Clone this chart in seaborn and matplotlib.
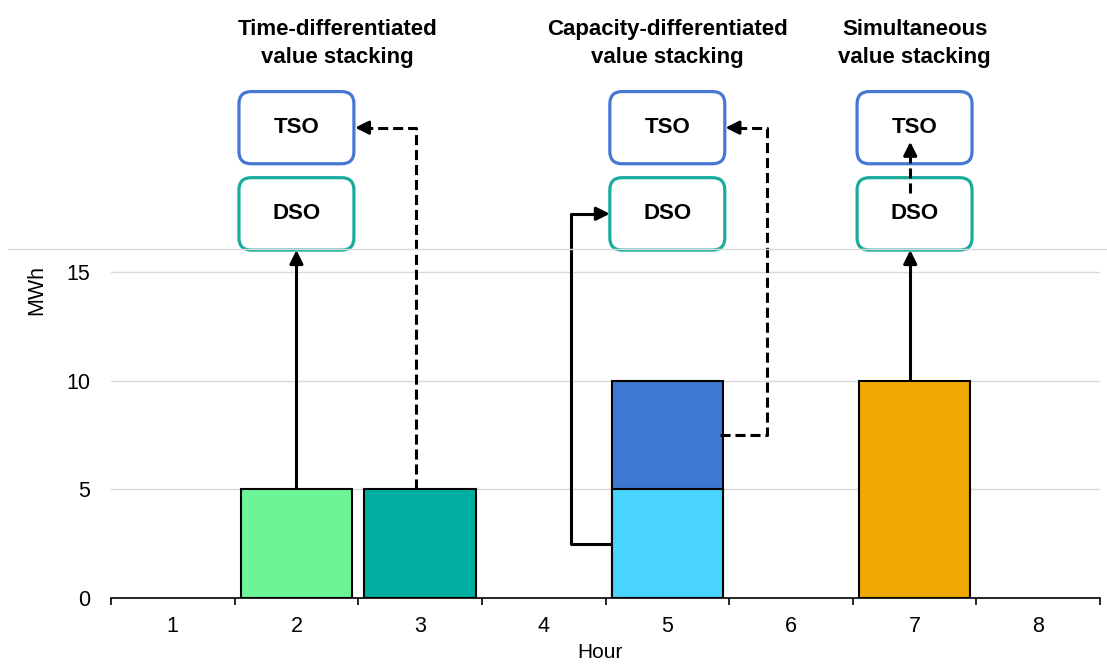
import numpy as np
import pandas as pd
import seaborn as sns
import matplotlib.pyplot as plt
from matplotlib.patches import FancyBboxPatch
from matplotlib.lines import Line2D
from matplotlib.ticker import FixedLocator

# data
hours = ['1', '2', '3', '4', '5', '6', '7', '8']
bar_hours = ['2', '3', '5', '7']
bar_totals = [5, 5, 10, 10]
bar_colors = ['#6bf597', '#00ae9f', '#3d78d1', '#f0a900']
lower_hours = ['5']
lower_values = [5]
lower_color = '#48d4ff'

titles = ['Time-differentiated\nvalue stacking',
          'Capacity-differentiated\nvalue stacking',
          'Simultaneous\nvalue stacking']
title_x = [1.33, 4.0, 6.0]
box_x = [1.0, 4.0, 6.0]
tso_color = '#4677d3'
dso_color = '#19ab9c'

sns.set_style('white')
plt.rcParams['font.family'] = ['Liberation Sans', 'DejaVu Sans']
plt.rcParams['text.color'] = 'black'
plt.rcParams['axes.labelcolor'] = 'black'
plt.rcParams['xtick.color'] = 'black'
plt.rcParams['ytick.color'] = 'black'

fig = plt.figure(figsize=(11.07, 6.64), dpi=100)
ax = fig.add_axes([111 / 1107, 1 - 598 / 664, 989 / 1107, 349 / 664])

df = pd.DataFrame({'hour': bar_hours, 'mwh': bar_totals})
sns.barplot(data=df, x='hour', y='mwh', order=hours, hue='hour', hue_order=bar_hours,
            palette=bar_colors, saturation=1, width=0.9, edgecolor='black',
            linewidth=1.5, legend=False, ax=ax, zorder=2)
df_low = pd.DataFrame({'hour': lower_hours, 'mwh': lower_values})
sns.barplot(data=df_low, x='hour', y='mwh', order=hours, color=lower_color, saturation=1,
            width=0.9, edgecolor='black', linewidth=1.5, ax=ax, zorder=2)

ax.set_xlim(-0.5, 7.5)
ax.set_ylim(0, 16.05)
ax.set_yticks([0, 5, 10, 15])
ax.yaxis.grid(True, color='#d9d9d9', lw=1)
ax.set_axisbelow(True)
for s in ['top', 'right', 'left']:
    ax.spines[s].set_visible(False)
ax.spines['bottom'].set_color('black')
ax.spines['bottom'].set_linewidth(1.2)
ax.xaxis.set_minor_locator(FixedLocator(np.arange(-0.5, 8, 1)))
ax.tick_params(axis='x', which='major', length=0, pad=13, labelsize=15.5)
ax.tick_params(axis='x', which='minor', length=5, width=1.2, color='black', direction='out', bottom=True)
ax.tick_params(axis='y', length=0, pad=15, labelsize=15.5)
ax.set_xlabel('Hour', fontsize=15, va='top')
ax.xaxis.set_label_coords(0.494, -0.128)
ax.set_ylabel('MWh', fontsize=15.5)
ax.yaxis.set_label_coords(-0.0647, 0.883)

# top separator line
fig.add_artist(Line2D([0.007, 1.0], [1 - 249 / 664] * 2, transform=fig.transFigure,
                      color='#d9d9d9', lw=1))

# boxes
fig.canvas.draw()
p0 = ax.transData.transform((0, 0))
p1 = ax.transData.transform((1, 1))
aspect = (p1[0] - p0[0]) / (p1[1] - p0[1])


def draw_box(xc, y0, y1, label, color):
    w = 0.93
    patch = FancyBboxPatch((xc - w / 2, y0), w, y1 - y0,
                           boxstyle='round,pad=0,rounding_size=0.1',
                           mutation_aspect=aspect, fc='white', ec=color, lw=2.3,
                           clip_on=False, zorder=3)
    ax.add_patch(patch)
    ax.text(xc, (y0 + y1) / 2, label, ha='center', va='center', fontsize=16,
            fontweight='bold', clip_on=False, zorder=4)


for xc in box_x:
    draw_box(xc, 19.97, 23.29, 'TSO', tso_color)
    draw_box(xc, 16.0, 19.33, 'DSO', dso_color)

for t, xt in zip(titles, title_x):
    ax.text(xt, 25.5, t, ha='center', va='center', fontsize=16, fontweight='bold',
            linespacing=1.45, clip_on=False)


def arrow_path(pts, dashed=False):
    tip = ax.transData.transform(pts[-1])
    prev = ax.transData.transform(pts[-2])
    d = tip - prev
    d = d / np.hypot(*d)
    back = ax.transData.inverted().transform(tip - d * 10)
    path = list(pts[:-1]) + [tuple(back)]
    xs, ys = zip(*path)
    kw = dict(color='black', lw=2.2, clip_on=False, zorder=5, solid_capstyle='butt')
    if dashed:
        kw['dashes'] = (3.3, 1.6)
    ax.plot(xs, ys, **kw)
    ax.annotate('', xy=pts[-1], xytext=tuple(back), annotation_clip=False, zorder=5,
                arrowprops=dict(arrowstyle='-|>', color='black', lw=2.2,
                                mutation_scale=20, shrinkA=0, shrinkB=0))


arrow_path([(1.0, 5), (1.0, 16.0)])
arrow_path([(1.97, 5), (1.97, 21.63), (1.474, 21.63)], dashed=True)
arrow_path([(3.55, 2.5), (3.22, 2.5), (3.22, 17.67), (3.535, 17.67)])
arrow_path([(4.43, 7.5), (4.81, 7.5), (4.81, 21.63), (4.47, 21.63)], dashed=True)
arrow_path([(5.965, 10), (5.965, 16.0)])
arrow_path([(5.965, 18.64), (5.965, 20.98)], dashed=True)

fig.savefig('out.png', dpi=100)
